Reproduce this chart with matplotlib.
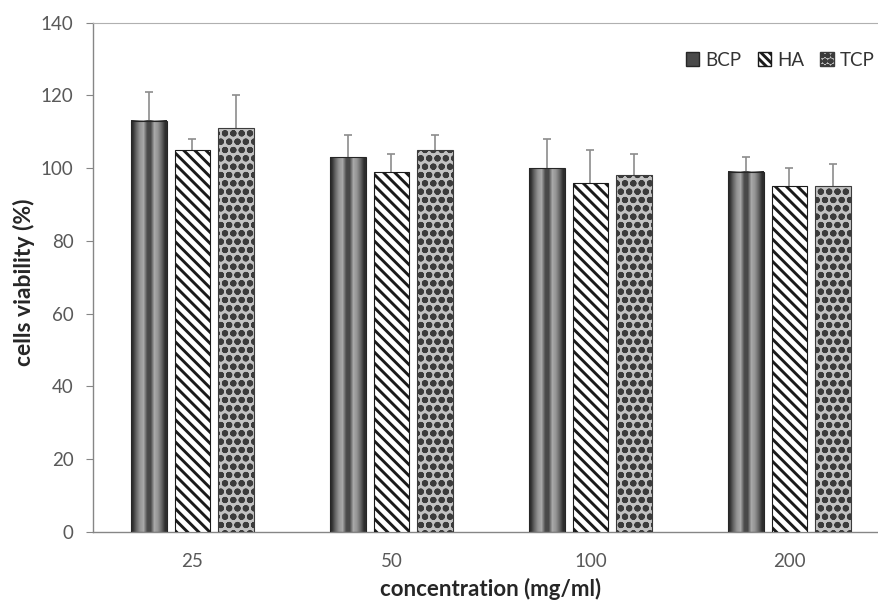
import numpy as np
import matplotlib
matplotlib.use('Agg')
import matplotlib.pyplot as plt
from matplotlib.patches import Patch

# data
concentrations = ['25', '50', '100', '200']
bcp = [113, 103, 100, 99]
bcp_err = [8, 6, 8, 4]
ha = [105, 99, 96, 95]
ha_err = [3, 5, 9, 5]
tcp = [111, 105, 98, 95]
tcp_err = [9, 4, 6, 6]

plt.rcParams['font.family'] = ['Lato', 'DejaVu Sans']
plt.rcParams['hatch.linewidth'] = 2.1

fig = plt.figure(figsize=(8.79, 6.02), dpi=100)
# plot area runs past the right edge of the picture, as in the cropped original
ax = fig.add_axes([93/879, 1 - 532/602, 796/879, 509.5/602])

x = np.arange(len(concentrations))
w = 0.18
off = 0.22
axis_gray = '#868686'
err_gray = '#8c8c8c'
text_gray = '#595959'

# BCP: bars with a vertical stripe shading
bars_bcp = ax.bar(x - off, bcp, w, facecolor='none', edgecolor='#262626', linewidth=0.8, zorder=3)
profile = np.array([[0.18, 0.4, 0.58, 0.66, 0.3, 0.28, 0.66, 0.58, 0.4, 0.18]])
for b in bars_bcp:
    ax.imshow(profile, cmap='gray', vmin=0, vmax=1, aspect='auto',
              interpolation='bilinear',
              extent=[b.get_x(), b.get_x() + b.get_width(), 0, b.get_height()],
              zorder=2)

ax.bar(x, ha, w, facecolor='white', edgecolor='#1a1a1a', hatch='\\\\\\', linewidth=0.8, zorder=3)
ax.bar(x + off, tcp, w, facecolor='#c2c2c2', edgecolor='#3c3c3c', hatch='oo', linewidth=0.8, zorder=3)

for xs, vals, errs in [(x - off, bcp, bcp_err), (x, ha, ha_err), (x + off, tcp, tcp_err)]:
    ax.errorbar(xs, vals, yerr=errs, fmt='none', ecolor=err_gray, elinewidth=1.2,
                capsize=3, capthick=1.2, zorder=1)

ax.set_xlim(-0.5, len(concentrations) - 0.5)
ax.set_ylim(0, 140)
ax.set_yticks(np.arange(0, 141, 20))
ax.set_xticks(x)
ax.set_xticklabels(concentrations)
ax.tick_params(axis='x', length=0, pad=15, labelsize=13.5, labelcolor=text_gray)
ax.tick_params(axis='y', direction='out', length=5, color=axis_gray, pad=9,
               labelsize=13.5, labelcolor=text_gray)

for s in ['left', 'bottom']:
    ax.spines[s].set_color(axis_gray)
    ax.spines[s].set_linewidth(1.0)
ax.spines['top'].set_color('#b0b0b0')
ax.spines['right'].set_visible(False)

ax.set_ylabel('cells viability (%)', fontsize=16.5, fontweight='bold', color='#262626')
ax.yaxis.set_label_coords(-0.073, 0.49)
ax.set_xlabel('concentration (mg/ml)', fontsize=16, fontweight='bold', color='#262626')
ax.xaxis.set_label_coords((491 - 93) / 796, -0.09)

handles = [Patch(facecolor='#4a4a4a', edgecolor='#262626'),
           Patch(facecolor='white', edgecolor='#1a1a1a', hatch='\\\\\\\\'),
           Patch(facecolor='#c2c2c2', edgecolor='#3c3c3c', hatch='ooo')]
fig.legend(handles, ['BCP', 'HA', 'TCP'], loc='center right',
           bbox_to_anchor=(875/879, 1 - 60/602), ncol=3, frameon=False,
           borderpad=0, borderaxespad=0,
           handlelength=0.7, handleheight=0.7, handletextpad=0.35,
           columnspacing=0.85, fontsize=13.5, labelcolor='#333333')

fig.savefig('out.png', dpi=100)
